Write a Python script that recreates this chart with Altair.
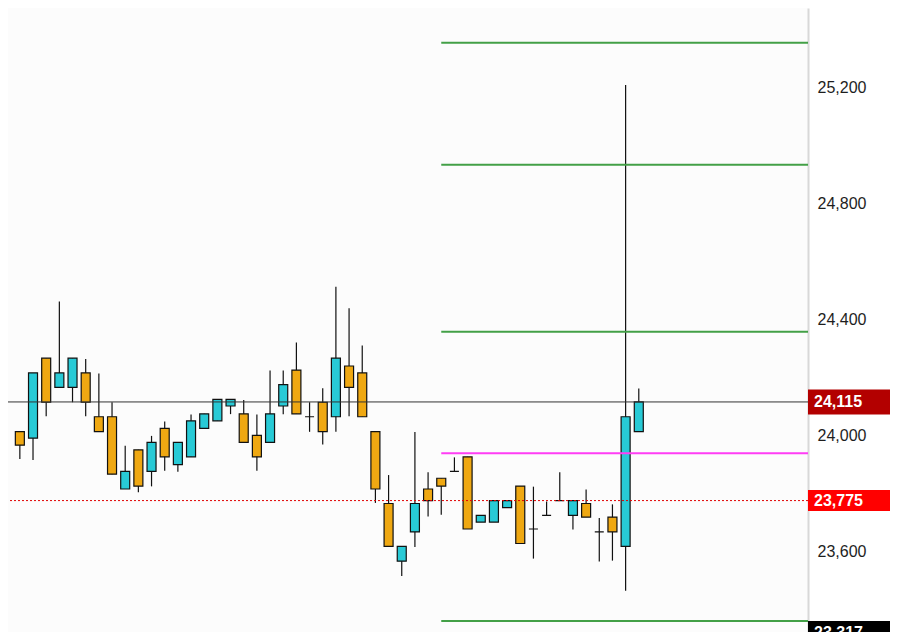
import altair as alt
import pandas as pd

# ---- data ----
opens  = [24013, 23990, 24266, 24165, 24165, 24215, 24064, 24064, 23815, 23950,
          23876, 24024, 23899, 23926, 24024, 24050, 24101, 24074, 24000, 23976,
          24101, 24225, 24064, 24114, 24064, 24239, 24215, 24013, 23765, 23566,
          23667, 23815, 23852, 23876, 23926, 23701, 23701, 23751, 23825, 23677,
          23724, 23775, 23724, 23765, 23667, 23718, 23617, 24013]
highs  = [24013, 24215, 24266, 24461, 24266, 24263, 24213, 24114, 23964, 23950,
          23998, 24048, 23976, 24072, 24074, 24124, 24124, 24122, 24072, 24223,
          24223, 24320, 24114, 24162, 24512, 24438, 24310, 24013, 23863, 23617,
          24011, 23873, 23852, 23924, 23926, 23724, 23775, 23775, 23825, 23823,
          23772, 23873, 23775, 23813, 23715, 23762, 25208, 24161]
lows   = [23918, 23915, 24066, 24165, 24114, 24066, 24013, 23866, 23815, 23804,
          23824, 23878, 23874, 23926, 24024, 24050, 24073, 23976, 23878, 23976,
          24073, 24074, 24012, 23968, 24012, 24066, 24064, 23767, 23617, 23515,
          23615, 23720, 23726, 23876, 23677, 23701, 23701, 23751, 23627, 23575,
          23724, 23775, 23675, 23718, 23565, 23568, 23464, 24013]
closes = [23966, 24215, 24114, 24215, 24266, 24114, 24013, 23866, 23876, 23825,
          23976, 23926, 23976, 24050, 24074, 24124, 24124, 23976, 23926, 24074,
          24175, 24074, 24064, 24013, 24266, 24165, 24064, 23815, 23617, 23617,
          23765, 23775, 23825, 23876, 23677, 23724, 23775, 23775, 23627, 23677,
          23724, 23775, 23775, 23718, 23667, 23667, 24064, 24115]

level_values = [25353, 24933, 24357, 23360, 23938]
level_colors = ["#43a047", "#43a047", "#43a047", "#43a047", "#ff3df5"]
level_start = 32  # candle index where the levels begin

last_price = 24115
ref_price = 23775
tag_values = [24115, 23775, 23317]
tag_colors = ["#b30000", "#ff0000", "#000000"]
tag_heights = [25, 21, 25]

axis_values = [23600, 24000, 24400, 24800, 25200]

# ---- layout ----
W, H = 800, 624
AXIS_W = 82
X_DOMAIN = [-0.52, 59.47]
Y_DOMAIN = [23322, 25473]
CYAN = "#28cad6"
ORANGE = "#efa812"

candles = pd.DataFrame({
    "i": list(range(len(opens))),
    "o": opens, "h": highs, "l": lows, "c": closes,
})
candles["top"] = candles[["o", "c"]].max(axis=1)
candles["bot"] = candles[["o", "c"]].min(axis=1)

levels = pd.DataFrame({"v": level_values, "col": level_colors, "start": level_start})
tags = pd.DataFrame({"v": tag_values, "col": tag_colors, "hgt": tag_heights})

xs = alt.Scale(domain=X_DOMAIN, nice=False, zero=False)
ys = alt.Scale(domain=Y_DOMAIN, nice=False, zero=False)

yaxis = alt.Axis(orient="right", values=axis_values, format=",.0f", title=None,
                 labelFont="Liberation Sans", labelFontSize=16, labelColor="#1e1e1e",
                 ticks=False, tickSize=0, labelPadding=9, grid=False,
                 domainColor="#d8d8d8", domainWidth=2)


def Y(field):
    return alt.Y(field, type="quantitative", scale=ys, axis=yaxis)


def X(field):
    return alt.X(field, type="quantitative", scale=xs, axis=None)


base = alt.Chart(candles)

wicks = base.mark_rule(color="#111111", strokeWidth=1.2).encode(
    x=X("i"), y=Y("l"), y2="h"
)

bodies = base.mark_bar(size=9, stroke="#111111", strokeWidth=1.2).encode(
    x=X("i"), y=Y("bot"), y2="top",
    color=alt.condition("datum.c >= datum.o", alt.value(CYAN), alt.value(ORANGE)),
)

level_lines = alt.Chart(levels).mark_rule(strokeWidth=2).encode(
    x=X("start"), x2=alt.value(W), y=Y("v"),
    color=alt.Color("col:N", scale=None),
)

last_line = alt.Chart(pd.DataFrame({"v": [last_price]})).mark_rule(
    color="#333333", strokeWidth=1
).encode(y=Y("v"))

ref_line = alt.Chart(pd.DataFrame({"v": [ref_price]})).mark_rule(
    color="#e00000", strokeWidth=1, strokeDash=[2, 2]
).encode(y=Y("v"))

tag_boxes = alt.Chart(tags).mark_rule(strokeCap="butt").encode(
    x=alt.value(W), x2=alt.value(W + AXIS_W), y=Y("v"),
    color=alt.Color("col:N", scale=None),
    strokeWidth=alt.StrokeWidth("hgt:Q", scale=None),
)

tag_text = alt.Chart(tags).mark_text(
    align="left", baseline="middle", font="Liberation Sans", fontSize=16,
    fontWeight="bold", color="white"
).encode(
    x=alt.value(W + 6), y=Y("v"), text=alt.Text("v:Q", format=",.0f")
)

chart = alt.layer(
    wicks, bodies, level_lines, last_line, ref_line, tag_boxes, tag_text
).properties(
    width=W, height=H,
    autosize=alt.AutoSizeParams(type="none"),
    padding={"left": 0, "top": 0, "right": AXIS_W, "bottom": 0},
    background="white",
).configure_view(
    fill="#fcfcfc", strokeWidth=0
)

chart.save("out.html", embed_options={"renderer": "svg", "actions": False})
